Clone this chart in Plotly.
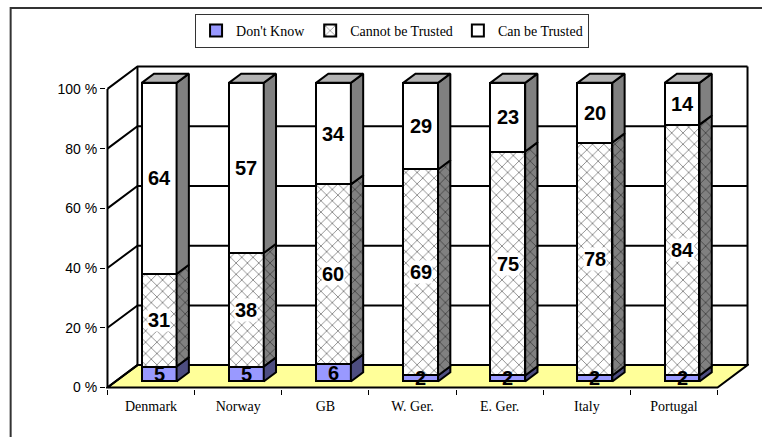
import plotly.graph_objects as go

# ---- data -----------------------------------------------------------------
countries = ["Denmark", "Norway", "GB", "W. Ger.", "E. Ger.", "Italy", "Portugal"]
dont_know = [5, 5, 6, 2, 2, 2, 2]
cannot_be_trusted = [31, 38, 60, 69, 75, 78, 84]
can_be_trusted = [64, 57, 34, 29, 23, 20, 14]
y_ticks = [0, 20, 40, 60, 80, 100]
y_tick_text = ["0 %", "20 %", "40 %", "60 %", "80 %", "100 %"]

# ---- 3-D projection settings (axis units) ---------------------------------
DX = 0.344       # horizontal shift of the full depth, in category units
DY = 7.5         # vertical shift of the full depth, in percent units
D_FRONT = 0.27   # depth fraction of the bar front faces
D_BACK = 0.68    # depth fraction of the bar back faces
BAR_W = 0.4
N = len(countries)

X_MIN, X_MAX = -0.517, N - 0.5 + DX + 0.017
Y_MIN, Y_MAX = -0.5, 100 + DY + 0.5

W, H = 762, 437
M_L, M_R = 105.5, 12.5
PX_Y = 2.99
M_B = 47.5
M_T = H - M_B - (Y_MAX - Y_MIN) * PX_Y

LINE = dict(color="black", width=2)
HATCH = dict(shape="x", fgcolor="black", size=8, solidity=0.2)

series = [
    dict(name="Don't Know", vals=dont_know, front="#9999FF", side="#4D4D80",
         hatch=False, label_bg=None),
    dict(name="Cannot be Trusted", vals=cannot_be_trusted, front="white",
         side="#808080", hatch=True, label_bg="white"),
    dict(name="Can be Trusted", vals=can_be_trusted, front="white",
         side="#808080", hatch=False, label_bg="white"),
]


def path(points):
    return "M " + " L ".join(f"{x},{y}" for x, y in points)


# ---- floor, walls and gridlines (behind all traces) -----------------------
x0, x1 = -0.5, N - 0.5
shapes = [dict(type="path", xref="x", yref="y", layer="below",
               path=path([(x0, 0), (x1, 0), (x1 + DX, DY), (x0 + DX, DY)]) + " Z",
               fillcolor="#FFFF99", line=LINE)]
for v in y_ticks:
    shapes.append(dict(type="path", xref="x", yref="y", layer="below",
                       path=path([(x0, v), (x0 + DX, v + DY), (x1 + DX, v + DY)]),
                       line=LINE))
for a, b in [((x0, 0), (x0, 100)), ((x0 + DX, DY), (x0 + DX, 100 + DY)),
             ((x1 + DX, DY), (x1 + DX, 100 + DY))]:
    shapes.append(dict(type="line", xref="x", yref="y", layer="below",
                       x0=a[0], y0=a[1], x1=b[0], y1=b[1], line=LINE))

fig = go.Figure()

# ---- front faces of the stacked bars ---------------------------------------
xf = [i + D_FRONT * DX for i in range(N)]
base_y = D_FRONT * DY
starts = [0] * N
annotations = []
for s in series:
    marker = dict(color=s["front"], line=dict(color="black", width=2))
    if s["hatch"]:
        marker["pattern"] = dict(HATCH, bgcolor="white")
    fig.add_trace(go.Bar(
        x=xf, y=s["vals"], base=[base_y + b for b in starts], width=BAR_W,
        name=s["name"], marker=marker, hoverinfo="skip"))
    for i, v in enumerate(s["vals"]):
        annotations.append(dict(
            x=xf[i], y=base_y + starts[i] + v / 2, text=str(v), showarrow=False,
            font=dict(family="Liberation Sans", size=20, color="black",
                      weight="bold"),
            bgcolor=s["label_bg"] or "rgba(0,0,0,0)", borderpad=0))
    starts = [a + b for a, b in zip(starts, s["vals"])]

# ---- side and top faces ----------------------------------------------------
sx = (D_BACK - D_FRONT) * DX
sy = (D_BACK - D_FRONT) * DY
for i in range(N):
    cum = 0
    xl = xf[i] - BAR_W / 2
    xr = xf[i] + BAR_W / 2
    for s in series:
        v = s["vals"][i]
        y0 = base_y + cum
        y1 = y0 + v
        kw = {}
        if s["hatch"]:
            kw["fillpattern"] = dict(HATCH, bgcolor=s["side"])
        fig.add_trace(go.Scatter(
            x=[xr, xr + sx, xr + sx, xr, xr], y=[y0, y0 + sy, y1 + sy, y1, y0],
            mode="lines", fill="toself", fillcolor=s["side"], line=LINE,
            hoverinfo="skip", showlegend=False, **kw))
        cum += v
    yt = base_y + cum
    fig.add_trace(go.Scatter(
        x=[xl, xl + sx, xr + sx, xr, xl], y=[yt, yt + sy, yt + sy, yt, yt],
        mode="lines", fill="toself", fillcolor="#B3B3B3", line=LINE,
        hoverinfo="skip", showlegend=False))


def paper_x(px):
    return (px - M_L) / (W - M_L - M_R)


def paper_y(py):
    return (H - M_B - py) / (H - M_B - M_T)


# outer chart frame
shapes.append(dict(type="rect", xref="paper", yref="paper",
                   x0=paper_x(10), x1=paper_x(800), y0=paper_y(480), y1=paper_y(8),
                   line=dict(color="#333333", width=2),
                   fillcolor="rgba(0,0,0,0)", layer="below"))

fig.update_layout(
    width=W, height=H,
    margin=dict(l=M_L, r=M_R, t=M_T, b=M_B, pad=0),
    paper_bgcolor="white", plot_bgcolor="white",
    barmode="overlay", bargap=0,
    showlegend=True,
    legend=dict(orientation="h", x=paper_x(392), xanchor="center",
                y=paper_y(14), yanchor="top", traceorder="normal",
                font=dict(family="Liberation Serif", size=14, color="black"),
                bordercolor="#333333", borderwidth=1, bgcolor="white",
                itemwidth=30, tracegroupgap=0),
    xaxis=dict(range=[X_MIN, X_MAX], tickvals=list(range(N)),
               ticktext=countries, ticks="", showgrid=False, zeroline=False,
               showline=False, ticklabelstandoff=7,
               tickfont=dict(family="Liberation Serif", size=14, color="black"),
               minor=dict(tickvals=[k - 0.5 for k in range(N + 1)],
                          ticks="outside", ticklen=5, tickcolor="black",
                          tickwidth=1, showgrid=False)),
    yaxis=dict(range=[Y_MIN, Y_MAX], tickvals=y_ticks, ticktext=y_tick_text,
               ticks="outside", ticklen=5, tickcolor="black", tickwidth=1,
               showgrid=False, zeroline=False, showline=False,
               tickfont=dict(family="Liberation Sans", size=14, color="black")),
    annotations=annotations,
    shapes=shapes,
)

fig.write_html("out.html")
